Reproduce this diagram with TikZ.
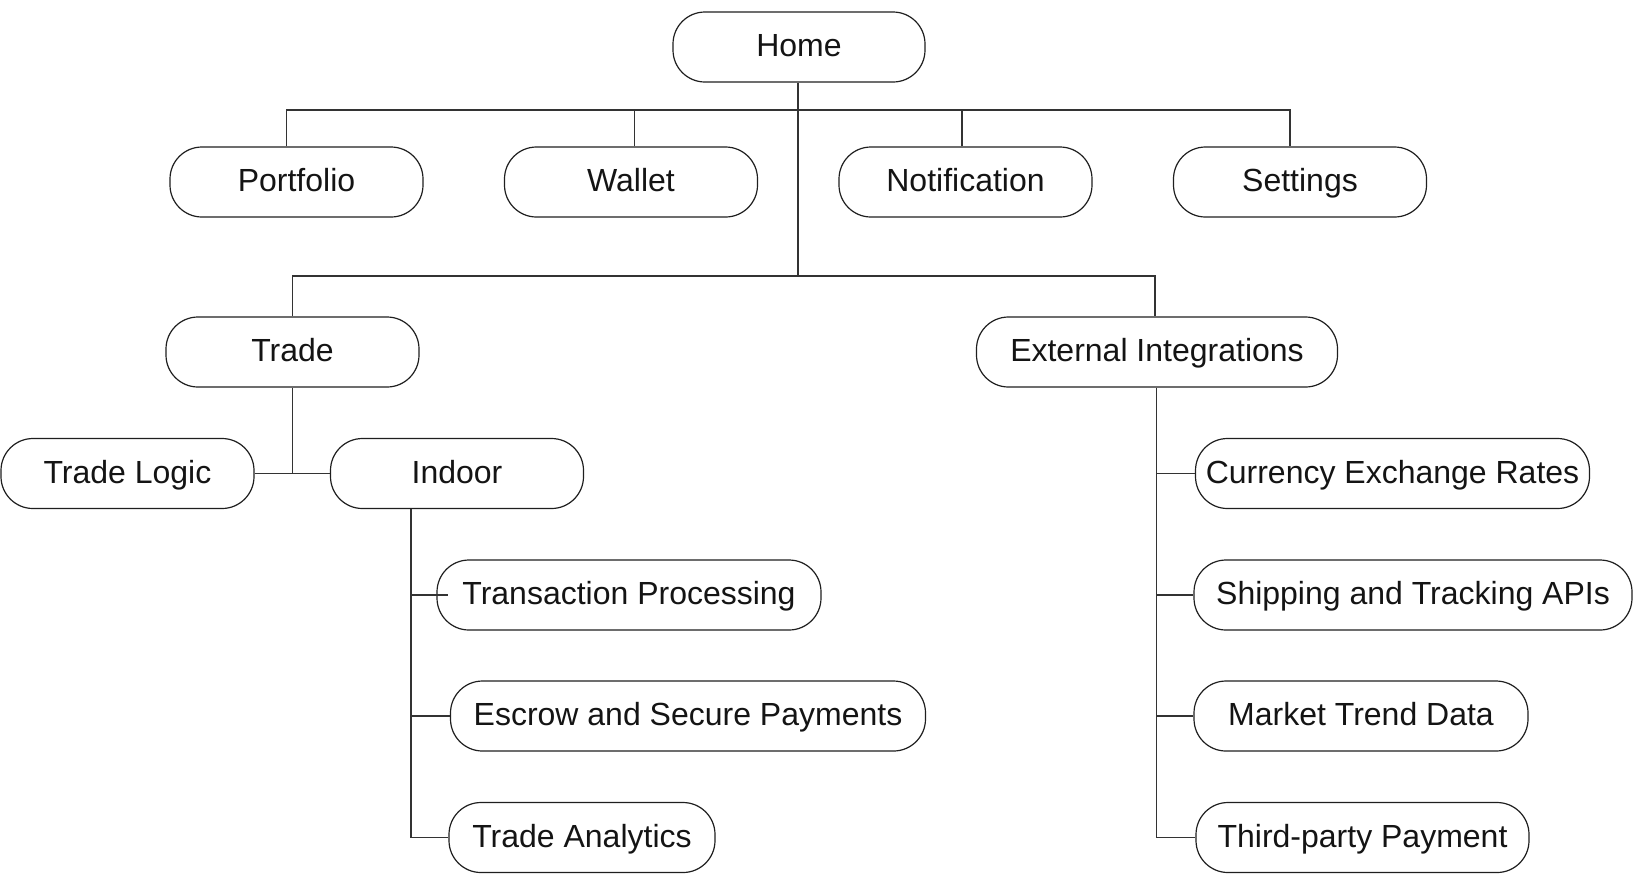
\documentclass[tikz,border=0pt]{standalone}
\usepackage{fontspec}
\setmainfont{Liberation Sans}
\begin{document}
\begin{tikzpicture}[x=0.5pt,y=-0.5pt,
  box/.style={draw=black!88, line width=0.6pt, rounded corners=16pt,
    minimum height=35pt, inner sep=0pt, text height=11.5pt, text depth=2pt,
    font=\fontsize{16}{19}\selectfont, text=black!92},
  wire/.style={draw=black!80, line width=0.6pt}]
\useasboundingbox (0,0) rectangle (1634,885);
% level 0
\node[box, minimum width=126pt] (home) at (799,47) {Home};
% level 1
\node[box, minimum width=126.5pt] (portfolio) at (296.5,182) {Portfolio};
\node[box, minimum width=126.5pt] (wallet) at (631,182) {Wallet};
\node[box, minimum width=126.5pt] (notification) at (965.5,182) {Notification};
\node[box, minimum width=126.5pt] (settings) at (1300,182) {Settings};
% level 2
\node[box, minimum width=126.5pt] (trade) at (292.5,352) {Trade};
\node[box, minimum width=180.5pt] (extint) at (1157,352) {External Integrations};
% trade children
\node[box, minimum width=126.5pt] (tradelogic) at (127.5,473.5) {Trade Logic};
\node[box, minimum width=126.5pt] (indoor) at (457,473.5) {Indoor};
\node[box, minimum width=192pt] (txproc) at (629,595) {Transaction Processing};
\node[box, minimum width=237.5pt] (escrow) at (688,716) {Escrow and Secure Payments};
\node[box, minimum width=133pt] (analytics) at (582,837.5) {Trade Analytics};
% external children
\node[box, minimum width=197pt] (currency) at (1392.5,473.5) {Currency Exchange Rates};
\node[box, minimum width=219pt] (shipping) at (1413,595) {Shipping and Tracking APIs};
\node[box, minimum width=167pt] (market) at (1361,716) {Market Trend Data};
\node[box, minimum width=166.5pt] (thirdparty) at (1362.5,837.5) {Third-party Payment};
% connectors
\draw[wire] ([xshift=-0.5pt]home.south) -- ([xshift=-0.5pt]home.south |- 0,276) coordinate (hub2);
\draw[wire] ([xshift=-5pt]portfolio.north) -- ++(0,-36.5) -| ([xshift=-5pt]settings.north);
\draw[wire] ([xshift=1.8pt]wallet.north) -- ++(0,-36.5);
\draw[wire] ([xshift=-1.8pt]notification.north) -- ++(0,-36.5);
\draw[wire] (trade.north) |- (hub2) -| ([xshift=-1pt]extint.north);
\draw[wire] (trade.south) -- (trade.south |- tradelogic.east);
\draw[wire] (tradelogic.east) -- (indoor.west);
\draw[wire] ([xshift=-23pt]indoor.south) coordinate (ispine) |- (analytics.west);
\draw[wire] (ispine |- txproc.west) -- ([xshift=6pt]txproc.west);
\draw[wire] (ispine |- escrow.west) -- (escrow.west);
\draw[wire] ([xshift=-0.25pt]extint.south) coordinate (espine) |- (thirdparty.west);
\draw[wire] (espine |- currency.west) -- (currency.west);
\draw[wire] (espine |- shipping.west) -- (shipping.west);
\draw[wire] (espine |- market.west) -- (market.west);
\end{tikzpicture}
\end{document}
